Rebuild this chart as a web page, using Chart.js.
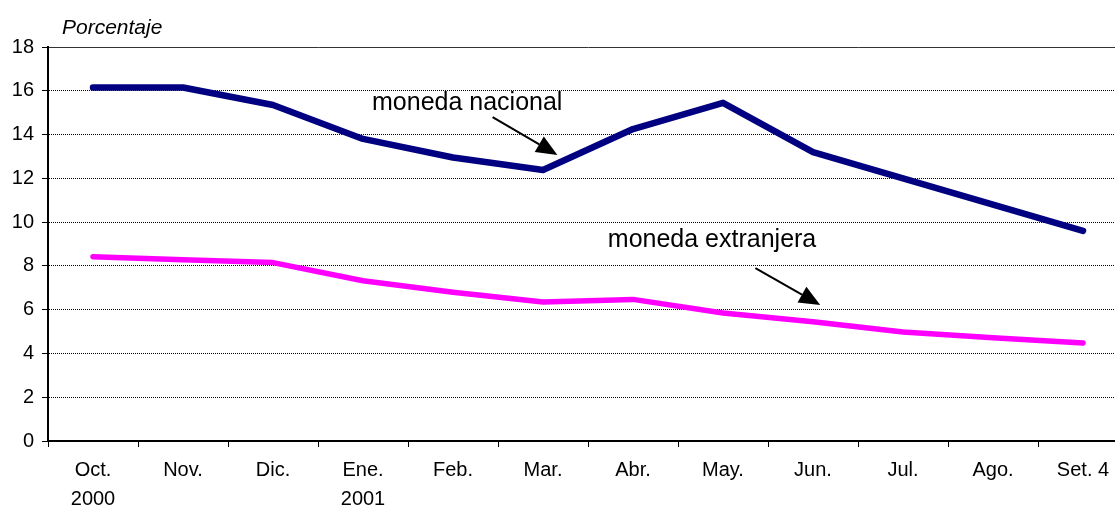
<!DOCTYPE html>
<html><head><meta charset="utf-8">
<script src="https://cdn.jsdelivr.net/npm/chart.js@4.4.0/dist/chart.umd.min.js"></script>
<style>
html,body{margin:0;padding:0;background:#fff;overflow:hidden;width:1115px;height:509px}
#wrap{position:absolute;left:0;top:0;width:1130px;height:509px}
</style>
</head><body>
<div id="wrap"><canvas id="c" width="1130" height="509"></canvas></div>
<script>
const categories = [['Oct.','2000'],['Nov.'],['Dic.'],['Ene.','2001'],['Feb.'],['Mar.'],['Abr.'],['May.'],['Jun.'],['Jul.'],['Ago.'],['Set. 4']];
const monedaNacional = [16.15,16.15,15.35,13.8,12.95,12.38,14.25,15.45,13.2,12.0,10.8,9.6];
const monedaExtranjera = [8.42,8.28,8.15,7.32,6.8,6.35,6.47,5.85,5.45,4.98,4.72,4.48];
const yTickValues = [0,2,4,6,8,10,12,14,16,18];
const yTitle = 'Porcentaje';
const annotationTexts = ['moneda nacional','moneda extranjera'];
// anchors in data units: [category index, value]
const annotationTextAt = [[3.1,15.44],[5.72,9.18]];
const annotationArrowFrom = [[4.44,14.8],[7.36,7.9]];
const annotationArrowTo = [[5.16,13.07],[8.08,6.21]];

const FONT = '"Liberation Sans", Arial, sans-serif';

const annotPlugin = {
  id: 'annot',
  afterDatasetsDraw(chart) {
    const {ctx, chartArea, scales: {x, y}} = chart;
    ctx.save();
    ctx.fillStyle = '#000';
    ctx.font = 'italic 21px ' + FONT;
    ctx.textBaseline = 'middle';
    ctx.textAlign = 'left';
    ctx.fillText(yTitle, chartArea.left + 14, chartArea.top - 19);
    ctx.font = '25px ' + FONT;
    for (let i = 0; i < annotationTexts.length; i++) {
      const t = annotationTextAt[i];
      ctx.fillText(annotationTexts[i], x.getPixelForValue(t[0]), y.getPixelForValue(t[1]));
      const fx = x.getPixelForValue(annotationArrowFrom[i][0]), fy = y.getPixelForValue(annotationArrowFrom[i][1]);
      const tx = x.getPixelForValue(annotationArrowTo[i][0]), ty = y.getPixelForValue(annotationArrowTo[i][1]);
      const ang = Math.atan2(ty - fy, tx - fx);
      const L = 21, W = 9;
      const bx = tx - L * Math.cos(ang), by = ty - L * Math.sin(ang);
      ctx.strokeStyle = '#000';
      ctx.lineWidth = 2;
      ctx.beginPath(); ctx.moveTo(fx, fy); ctx.lineTo(bx, by); ctx.stroke();
      ctx.beginPath();
      ctx.moveTo(tx, ty);
      ctx.lineTo(bx + W * Math.sin(ang), by - W * Math.cos(ang));
      ctx.lineTo(bx - W * Math.sin(ang), by + W * Math.cos(ang));
      ctx.closePath();
      ctx.fillStyle = '#000';
      ctx.fill();
    }
    ctx.restore();
  }
};

new Chart(document.getElementById('c'), {
  type: 'line',
  data: {
    labels: categories,
    datasets: [
      {label: 'moneda nacional', data: monedaNacional, borderColor: '#000080', borderWidth: 6.5, pointRadius: 0, tension: 0, borderCapStyle: 'round', borderJoinStyle: 'round', fill: false},
      {label: 'moneda extranjera', data: monedaExtranjera, borderColor: '#FF00FF', borderWidth: 5.5, pointRadius: 0, tension: 0, borderCapStyle: 'round', borderJoinStyle: 'round', fill: false}
    ]
  },
  options: {
    responsive: false,
    animation: false,
    devicePixelRatio: 1,
    layout: {padding: {left: 0, right: 2, top: 47, bottom: 0}},
    plugins: {legend: {display: false}, title: {display: false}, tooltip: {enabled: false}},
    scales: {
      x: {
        type: 'category',
        offset: true,
        grid: {offset: true, drawOnChartArea: false, drawTicks: true, tickLength: 6, tickColor: '#000', tickWidth: 1},
        border: {display: true, color: '#000', width: 2},
        ticks: {color: '#000', font: {family: FONT, size: 20, lineHeight: 1.45}, padding: 9, maxRotation: 0, autoSkip: false},
        afterFit(s) { s.height = 68; }
      },
      xTop: {
        type: 'category',
        position: 'top',
        display: true,
        grid: {display: false, drawTicks: false},
        border: {display: true, color: '#333', width: 1},
        ticks: {display: false},
        afterFit(s) { s.height = 0; }
      },
      y: {
        min: 0, max: 18,
        afterBuildTicks(s) { s.ticks = yTickValues.map(v => ({value: v})); },
        grid: {color: (c) => (c.tick && c.tick.value === 0) ? 'rgba(0,0,0,0)' : '#000', lineWidth: 1, tickLength: 6, tickColor: '#000', tickWidth: 1},
        border: {display: true, color: '#000', width: 2, dash: [1, 1]},
        ticks: {color: '#000', font: {family: FONT, size: 20}, padding: 8},
        afterFit(s) { s.width = 48; }
      }
    }
  },
  plugins: [annotPlugin]
});
</script>
</body></html>
